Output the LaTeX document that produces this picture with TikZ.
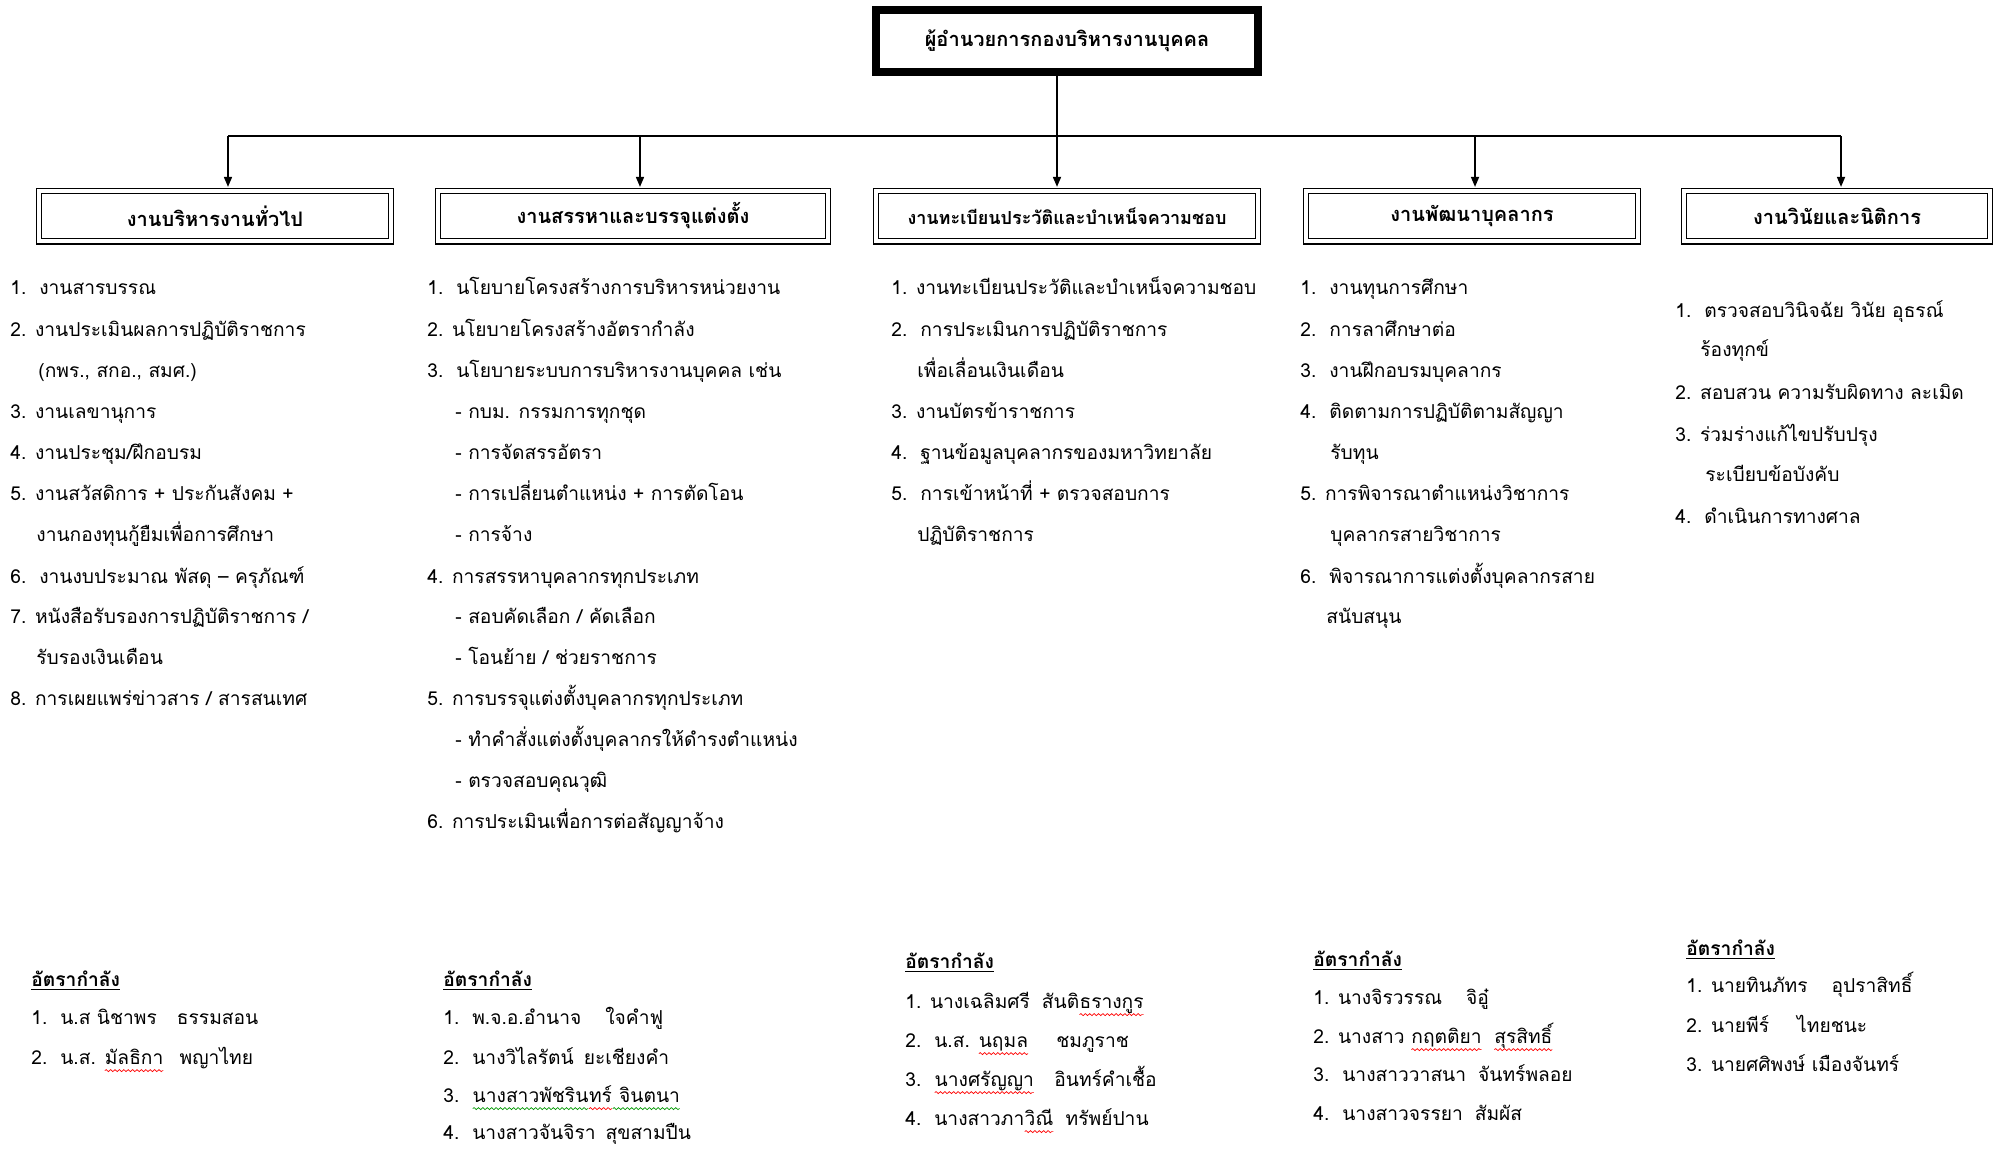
\documentclass[tikz,border=0pt]{standalone}
\usepackage{fontspec}
\setmainfont[Script=Thai]{Loma}
\usetikzlibrary{arrows.meta,calc,decorations.pathmorphing}
\newcommand\wv[2]{\tikz[baseline=(w.base)]{\node[inner sep=0pt,outer sep=0pt] (w) {#2};
  \draw[#1, line width=0.35pt, decorate, decoration={snake, amplitude=0.5pt, segment length=2.2pt}] ([yshift=-3.2pt]w.base west) -- ([yshift=-3.2pt]w.base east);}}
\newcommand\itm[4]{\node[lbl] (#1) at (#2,#3) {#4};}
\newcommand\hd[4]{\node[lbl,font=\bfseries\fontsize{9.6}{12}\selectfont] (#1) at (#2,#3) {\underline{#4}};}
\begin{document}
\begin{tikzpicture}[x=0.5pt,y=-0.5pt,
  lbl/.style={anchor=mid west, inner sep=0pt, font=\fontsize{9.6}{12}\selectfont},
  dbox/.style={draw, double, double distance=2pt, line width=0.6pt, minimum height=25.3pt, inner sep=0pt, font=\bfseries\fontsize{10}{12}\selectfont},
  arr/.style={-{Triangle[length=5pt,width=4pt]}, line width=0.8pt},
  conn/.style={line width=0.8pt}]
\fill[white] (0,0) rectangle (1995,1148);
\useasboundingbox (0,0) rectangle (1995,1148);

% top box
\node[draw, line width=3pt, minimum width=192pt, minimum height=32pt, inner sep=0pt,
  font=\bfseries\fontsize{10}{12}\selectfont] (top) at (1067,41) {ผู้อำนวยการกองบริหารงานบุคคล};
\draw[line width=0.8pt] ($(top.north west)+(7,7)$) rectangle ($(top.south east)+(-7,-7)$);

% level 2 boxes
\node[dbox, minimum width=175.8pt] (b1) at (215,216) {งานบริหารงานทั่วไป};
\node[dbox, minimum width=194.8pt] (b2) at (633,216) {งานสรรหาและบรรจุแต่งตั้ง};
\node[dbox, minimum width=190.8pt, font=\bfseries\fontsize{9}{12}\selectfont] (b3) at (1067,216) {งานทะเบียนประวัติและบำเหน็จความชอบ};
\node[dbox, minimum width=165.8pt] (b4) at (1472,216) {งานพัฒนาบุคลากร};
\node[dbox, minimum width=152.8pt] (b5) at (1837,216) {งานวินัยและนิติการ};

% connectors
\coordinate (j) at (1057,136);
\coordinate (a1) at (228,136);
\coordinate (a2) at (640,136);
\coordinate (a4) at (1475,136);
\coordinate (a5) at (1841,136);
\draw[conn] (a1) -- (a5);
\draw[arr] (top.south -| j) -- ([yshift=1.6pt]b3.north -| j);
\draw[arr] (a1) -- ([yshift=1.6pt]b1.north -| a1);
\draw[arr] (a2) -- ([yshift=1.6pt]b2.north -| a2);
\draw[arr] (a4) -- ([yshift=1.6pt]b4.north -| a4);
\draw[arr] (a5) -- ([yshift=1.6pt]b5.north -| a5);

% column 1
\itm{c1a}{10}{289}{1.\ \ งานสารบรรณ}
\itm{c1b}{10}{331}{2. งานประเมินผลการปฏิบัติราชการ}
\itm{c1c}{38}{372}{(กพร., สกอ., สมศ.)}
\itm{c1d}{10}{413}{3. งานเลขานุการ}
\itm{c1e}{10}{454}{4. งานประชุม/ฝึกอบรม}
\itm{c1f}{10}{495}{5. งานสวัสดิการ + ประกันสังคม +}
\itm{c1g}{36}{536}{งานกองทุนกู้ยืมเพื่อการศึกษา}
\itm{c1h}{10}{578}{6.\ \ งานงบประมาณ พัสดุ – ครุภัณฑ์}
\itm{c1i}{10}{618}{7. หนังสือรับรองการปฏิบัติราชการ /}
\itm{c1j}{36}{659}{รับรองเงินเดือน}
\itm{c1k}{10}{700}{8. การเผยแพร่ข่าวสาร / สารสนเทศ}

% column 2
\itm{c2a}{427}{289}{1.\ \ นโยบายโครงสร้างการบริหารหน่วยงาน}
\itm{c2b}{427}{331}{2. นโยบายโครงสร้างอัตรากำลัง}
\itm{c2c}{427}{372}{3.\ \ นโยบายระบบการบริหารงานบุคคล เช่น}
\itm{c2d}{455}{413}{- กบม. กรรมการทุกชุด}
\itm{c2e}{455}{454}{- การจัดสรรอัตรา}
\itm{c2f}{455}{495}{- การเปลี่ยนตำแหน่ง + การตัดโอน}
\itm{c2g}{455}{536}{- การจ้าง}
\itm{c2h}{427}{578}{4. การสรรหาบุคลากรทุกประเภท}
\itm{c2i}{455}{618}{- สอบคัดเลือก / คัดเลือก}
\itm{c2j}{455}{659}{- โอนย้าย / ช่วยราชการ}
\itm{c2k}{427}{700}{5. การบรรจุแต่งตั้งบุคลากรทุกประเภท}
\itm{c2l}{455}{741}{- ทำคำสั่งแต่งตั้งบุคลากรให้ดำรงตำแหน่ง}
\itm{c2m}{455}{782}{- ตรวจสอบคุณวุฒิ}
\itm{c2n}{427}{823}{6. การประเมินเพื่อการต่อสัญญาจ้าง}

% column 3
\itm{c3a}{891}{289}{1. งานทะเบียนประวัติและบำเหน็จความชอบ}
\itm{c3b}{891}{331}{2.\ \ การประเมินการปฏิบัติราชการ}
\itm{c3c}{917}{372}{เพื่อเลื่อนเงินเดือน}
\itm{c3d}{891}{413}{3. งานบัตรข้าราชการ}
\itm{c3e}{891}{454}{4.\ \ ฐานข้อมูลบุคลากรของมหาวิทยาลัย}
\itm{c3f}{891}{495}{5.\ \ การเข้าหน้าที่ + ตรวจสอบการ}
\itm{c3g}{917}{536}{ปฏิบัติราชการ}

% column 4
\itm{c4a}{1300}{289}{1.\ \ งานทุนการศึกษา}
\itm{c4b}{1300}{331}{2.\ \ การลาศึกษาต่อ}
\itm{c4c}{1300}{372}{3.\ \ งานฝึกอบรมบุคลากร}
\itm{c4d}{1300}{413}{4.\ \ ติดตามการปฏิบัติตามสัญญา}
\itm{c4e}{1330}{454}{รับทุน}
\itm{c4f}{1300}{495}{5. การพิจารณาตำแหน่งวิชาการ}
\itm{c4g}{1330}{536}{บุคลากรสายวิชาการ}
\itm{c4h}{1300}{578}{6.\ \ พิจารณาการแต่งตั้งบุคลากรสาย}
\itm{c4i}{1326}{618}{สนับสนุน}

% column 5
\itm{c5a}{1675}{312}{1.\ \ ตรวจสอบวินิจฉัย วินัย อุธรณ์}
\itm{c5b}{1700}{351}{ร้องทุกข์}
\itm{c5c}{1675}{394}{2. สอบสวน ความรับผิดทาง ละเมิด}
\itm{c5d}{1675}{436}{3. ร่วมร่างแก้ไขปรับปรุง}
\itm{c5e}{1705}{476}{ระเบียบข้อบังคับ}
\itm{c5f}{1675}{518}{4.\ \ ดำเนินการทางศาล}

% staff lists
\hd{s1h}{31}{981}{อัตรากำลัง}
\itm{s1a}{31}{1019}{1.\ \ น.ส นิชาพร\hspace{10pt}ธรรมสอน}
\itm{s1b}{31}{1059}{2.\ \ น.ส. \wv{red}{มัลธิกา}\hspace{8pt}พญาไทย}

\hd{s2h}{443}{981}{อัตรากำลัง}
\itm{s2a}{443}{1019}{1.\ \ พ.จ.อ.อำนาจ\hspace{12pt}ใจคำฟู}
\itm{s2b}{443}{1059}{2.\ \ นางวิไลรัตน์\hspace{5pt}ยะเชียงคำ}
\itm{s2c}{443}{1097}{3.\ \ \wv{green!60!black}{นางสาวพัชริน}\wv{red}{ทร์}\wv{green!60!black}{\ จินตนา}}
\itm{s2d}{443}{1134}{4.\ \ นางสาวจันจิรา\hspace{5pt}สุขสามปืน}

\hd{s3h}{905}{963}{อัตรากำลัง}
\itm{s3a}{905}{1003}{1. นางเฉลิมศรี\hspace{6pt}สันติ\wv{red}{ธรางกูร}}
\itm{s3b}{905}{1042}{2.\ \ น.ส. \wv{red}{นฤมล}\hspace{14pt}ชมภูราช}
\itm{s3c}{905}{1081}{3.\ \ \wv{red}{นางศรัญญา}\hspace{10pt}อินทร์คำเชื้อ}
\itm{s3d}{905}{1120}{4.\ \ นางสาวภา\wv{red}{วิณี}\hspace{6pt}ทรัพย์ปาน}

\hd{s4h}{1313}{961}{อัตรากำลัง}
\itm{s4a}{1313}{999}{1. นางจิรวรรณ\hspace{12pt}จิอู๋}
\itm{s4b}{1313}{1038}{2. นางสาว \wv{red}{กฤตติยา}\hspace{6pt}\wv{red}{สุรสิทธิ์}}
\itm{s4c}{1313}{1076}{3.\ \ นางสาววาสนา\hspace{6pt}จันทร์พลอย}
\itm{s4d}{1313}{1115}{4.\ \ นางสาวจรรยา\hspace{6pt}สัมผัส}

\hd{s5h}{1686}{950}{อัตรากำลัง}
\itm{s5a}{1686}{987}{1. นายทินภัทร\hspace{12pt}อุปราสิทธิ์}
\itm{s5b}{1686}{1027}{2. นายพีร์\hspace{14pt}ไทยชนะ}
\itm{s5c}{1686}{1066}{3. นายศศิพงษ์ เมืองจันทร์}
\end{tikzpicture}
\end{document}
